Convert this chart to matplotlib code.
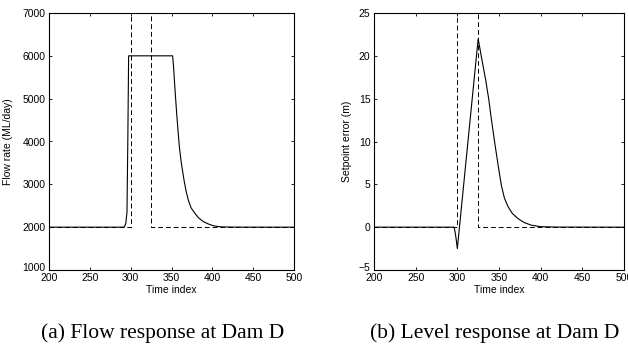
import matplotlib
matplotlib.use("Agg")
import matplotlib.pyplot as plt
import matplotlib.transforms as mtransforms

# (a) flow response at Dam D
flow_time = [200, 292, 294, 295.5, 296.5, 297.5, 351.4, 352.5, 353.5, 355, 356.3, 358,
             359.6, 362, 365.3, 368, 370.6, 374, 378.8, 383, 389, 395, 401, 407, 413,
             430, 500]
flow_rate = [2000, 2000, 2080, 2350, 4000, 6000, 6000, 5750, 5440, 5020, 4660, 4250,
             3880, 3500, 3100, 2830, 2630, 2450, 2320, 2220, 2130, 2075, 2035, 2015, 2005,
             2001, 2000]
flow_ref_time = [200, 300, 300, 325, 325, 500]
flow_ref = [2000, 2000, 7000, 7000, 2000, 2000]

# (b) level response at Dam D
level_time = [200, 296, 297, 298, 299, 300, 325, 329, 334, 337.6, 341, 344.8, 349,
              352.8, 356.5, 360.8, 366, 372.8, 380, 388.8, 400, 420, 500]
level_err = [0, 0, -0.4, -1.0, -1.7, -2.5, 22.0, 19.8, 17.2, 15.0, 12.5, 9.9, 7.2,
             4.9, 3.4, 2.4, 1.6, 1.0, 0.55, 0.23, 0.06, 0.01, 0]
level_ref_time = [200, 300, 300, 325, 325, 500]
level_ref = [0, 0, 25, 25, 0, 0]

x_ticks = [200, 250, 300, 350, 400, 450, 500]

plt.rcParams['font.family'] = ['Liberation Sans', 'DejaVu Sans']

W, H = 628, 347
fig = plt.figure(figsize=(W / 100, H / 100), dpi=100, facecolor='white')
ax1 = fig.add_axes([49 / W, 1 - 270 / H, 245 / W, 257 / H])
ax2 = fig.add_axes([374 / W, 1 - 270 / H, 250 / W, 257 / H])

dash = (0, (5, 3))

ax1.plot(flow_ref_time, flow_ref, color='black', lw=0.7, linestyle=dash)
ax1.plot(flow_time, flow_rate, color='black', lw=0.8)
ax1.set_xlim(200, 500)
ax1.set_ylim(1000, 7000)
ax1.set_yticks(range(1000, 7001, 1000))
ax1.set_ylabel("Flow rate (ML/day)", fontsize=7.5)
ax1.yaxis.set_label_coords(-0.147, 0.5)

ax2.plot(level_ref_time, level_ref, color='black', lw=0.7, linestyle=dash)
ax2.plot(level_time, level_err, color='black', lw=0.8)
ax2.set_xlim(200, 500)
ax2.set_ylim(-5, 25)
ax2.set_yticks(range(-5, 26, 5))
ax2.set_ylabel("Setpoint error (m)", fontsize=7.5)
ax2.yaxis.set_label_coords(-0.088, 0.5)

for ax in (ax1, ax2):
    ax.set_xticks(x_ticks)
    ax.set_xlabel("Time index", fontsize=7.5, labelpad=1)
    ax.tick_params(direction='in', top=True, right=True, length=2.5, width=0.6,
                   labelsize=7.5, pad=2.5)
    for s in ax.spines.values():
        s.set_linewidth(0.8)
    # lift the lowest y label a little, as in the original
    lab = ax.get_yticklabels()[0]
    lab.set_transform(lab.get_transform() +
                      mtransforms.ScaledTranslation(0, 2.5 / 72, fig.dpi_scale_trans))

# Captions
fig.text(163 / W, 1 - 338 / H, "(a) Flow response at Dam D", ha='center',
         va='baseline', fontsize=15.5, family='Liberation Serif')
fig.text(495 / W, 1 - 338 / H, "(b) Level response at Dam D", ha='center',
         va='baseline', fontsize=15.5, family='Liberation Serif')

fig.savefig("out.png", dpi=100)
